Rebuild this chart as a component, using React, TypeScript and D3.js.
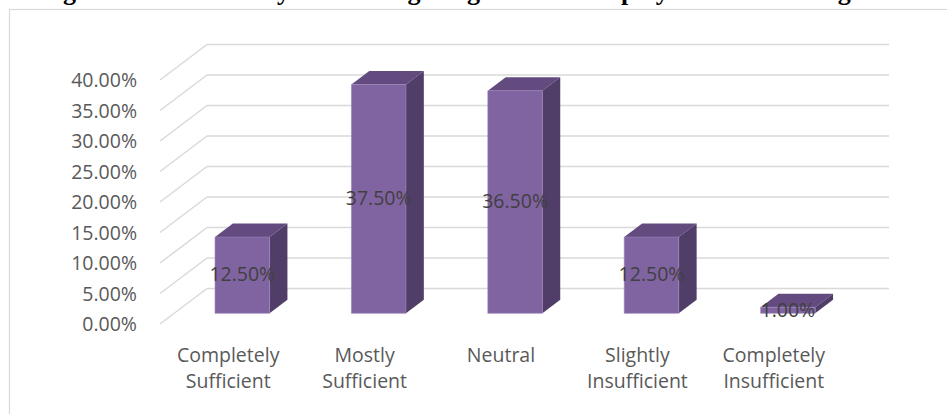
import React from "react";
import * as d3 from "d3";

const categories: string[][] = [
  ["Completely", "Sufficient"],
  ["Mostly", "Sufficient"],
  ["Neutral"],
  ["Slightly", "Insufficient"],
  ["Completely", "Insufficient"],
];
const values: number[] = [0.125, 0.375, 0.365, 0.125, 0.01];
const tickValues: number[] = [0, 0.05, 0.1, 0.15, 0.2, 0.25, 0.3, 0.35, 0.4];
const titleText = "Figure 4.6: Sufficiency of Training Programs for Employee Skill Building and Learning";

const W = 947;
const H = 414;
const DEPTH_X = 47;
const DEPTH_Y = 35.5;
const Z0 = 0.3;
const Z1 = 0.68;

const FRONT = "#8064A2";
const TOP = "#634B80";
const SIDE = "#503E69";
const GRID = "#D9D9D9";
const FONT = "'Open Sans', 'Noto Sans', sans-serif";

export default function App() {
  const keys = categories.map((c) => c.join(" "));
  const x = d3.scaleBand<string>().domain(keys).range([160, 842]).paddingInner(0.6).paddingOuter(0.3);
  const y = d3.scaleLinear().domain([0, 0.4]).range([324, 80]);
  const fmt = d3.format(".2%");

  const proj = (px: number, py: number, z: number): [number, number] => [px + z * DEPTH_X, py - z * DEPTH_Y];
  const poly = (pts: [number, number][]) => (d3.line()(pts) as string) + "Z";

  const step = x.step();
  const x0 = x.range()[0];
  const x1 = x.range()[1];

  return (
    <svg
      width={W}
      height={H}
      style={{ position: "absolute", left: 0, top: 0, background: "#fff" }}
      xmlns="http://www.w3.org/2000/svg"
    >
      <rect x={0} y={0} width={W} height={H} fill="#fff" />
      <text x={40} y={0} fontFamily="'Liberation Serif', 'Times New Roman', serif" fontWeight="bold" fontSize={26} fill="#000">
        {titleText}
      </text>
      <rect x={9.5} y={9.5} width={960} height={430} fill="none" stroke={GRID} strokeWidth={1.2} />

      {/* gridlines: side diagonals + back wall */}
      {tickValues.map((t) => {
        const [bx0, by] = proj(x0, y(t), 1);
        const [bx1] = proj(x1, y(t), 1);
        return (
          <g key={t}>
            <line x1={x0} y1={y(t)} x2={bx0} y2={by} stroke={GRID} strokeWidth={1.5} />
            <line x1={bx0} y1={by} x2={bx1} y2={by} stroke={GRID} strokeWidth={1.5} />
          </g>
        );
      })}

      {/* y axis labels */}
      {tickValues.map((t) => (
        <text
          key={"l" + t}
          x={137}
          y={y(t) + 2}
          textAnchor="end"
          dominantBaseline="middle"
          fontFamily={FONT}
          fontSize={19.5}
          fill="#595959"
        >
          {fmt(t)}
        </text>
      ))}

      {/* bars */}
      {values.map((v, i) => {
        const k = keys[i];
        const bl = x(k) as number;
        const br = bl + x.bandwidth();
        const yt = y(v);
        const yb = y(0);
        const fBL = proj(bl, yb, Z0);
        const fBR = proj(br, yb, Z0);
        const fTL = proj(bl, yt, Z0);
        const fTR = proj(br, yt, Z0);
        const bTL = proj(bl, yt, Z1);
        const bTR = proj(br, yt, Z1);
        const bBR = proj(br, yb, Z1);
        return (
          <g key={k}>
            <path d={poly([fTL, fTR, bTR, bTL])} fill={TOP} />
            <path d={poly([fTR, fBR, bBR, bTR])} fill={SIDE} />
            <path d={poly([fBL, fBR, fTR, fTL])} fill={FRONT} stroke="#9A84B8" strokeWidth={0.6} />
          </g>
        );
      })}

      {/* data labels */}
      {values.map((v, i) => {
        const k = keys[i];
        const cx = (x(k) as number) + x.bandwidth() / 2 + Z0 * DEPTH_X;
        const cy = (y(v) + y(0)) / 2 - Z0 * DEPTH_Y;
        return (
          <text
            key={"d" + k}
            x={cx}
            y={cy + 1}
            textAnchor="middle"
            dominantBaseline="middle"
            fontFamily={FONT}
            fontSize={19.5}
            fill="#404040"
          >
            {fmt(v)}
          </text>
        );
      })}

      {/* category labels */}
      {categories.map((lines, i) => {
        const cx = (x(keys[i]) as number) + x.bandwidth() / 2;
        return (
          <text key={"c" + i} textAnchor="middle" fontFamily={FONT} fontSize={19.5} fill="#595959">
            {lines.map((ln, j) => (
              <tspan key={j} x={cx} y={362 + j * 26}>
                {ln}
              </tspan>
            ))}
          </text>
        );
      })}
    </svg>
  );
}
